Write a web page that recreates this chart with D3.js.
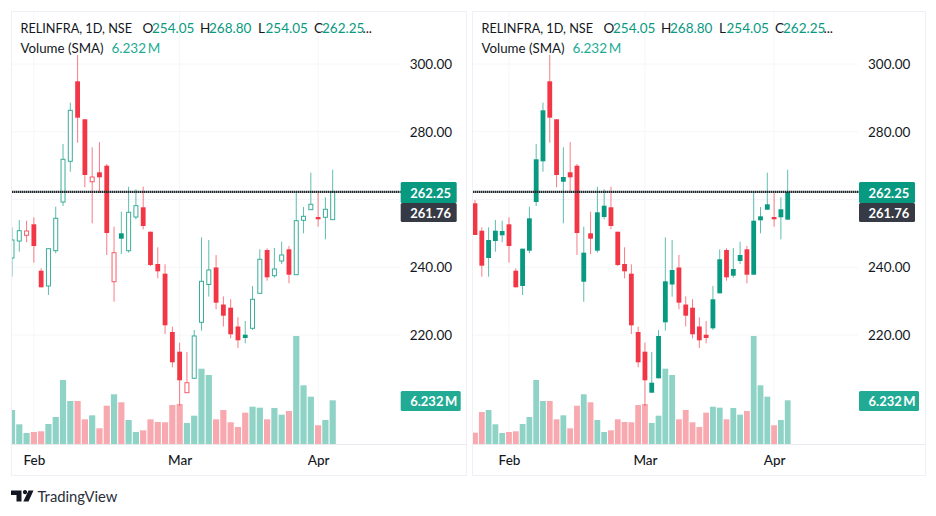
<!DOCTYPE html>
<html>
<head>
<meta charset="utf-8">
<script src="https://cdn.jsdelivr.net/npm/d3@7"></script>
<style>
  html, body { margin: 0; padding: 0; background: #fff; }
  text { font-family: Lato, "Open Sans", sans-serif; }
</style>
</head>
<body>
<svg id="chart" width="936" height="516"></svg>
<script>
// daily candles
const opens = [258.88, 250.79, 242.73, 247.75, 249.43, 252.68, 238.98, 234.47, 244.89, 259.26, 271.28, 294.89, 283.68, 265.25, 268.03, 269.98, 235.73, 250.02, 244.89, 254.83, 257.7, 250.49, 240.96, 238.1, 220.89, 215.07, 202.97, 207.22, 223.75, 234.91, 239.93, 229.0, 228.06, 222.51, 220.09, 221.98, 232.31, 245.09, 237.51, 241.85, 245.3, 237.8, 253.86, 256.99, 254.83, 254.75, 254.05];
const highs = [259.85, 251.79, 251.79, 253.95, 253.74, 254.75, 239.69, 245.48, 257.87, 276.38, 288.58, 302.66, 283.68, 275.41, 276.97, 270.48, 251.97, 256.4, 263.78, 263.01, 263.78, 250.49, 245.89, 240.87, 222.45, 217.73, 214.98, 221.48, 248.84, 248.04, 243.62, 231.42, 230.57, 225.23, 224.13, 234.47, 245.3, 245.59, 245.68, 247.54, 246.27, 262.21, 257.79, 267.91, 261.92, 260.65, 268.8];
const lows = [249.52, 237.21, 237.21, 244.59, 247.36, 241.34, 234.08, 231.81, 244.12, 258.08, 268.21, 276.77, 263.6, 252.97, 261.92, 243.62, 229.83, 243.91, 244.3, 254.16, 251.2, 240.37, 236.74, 220.3, 210.47, 199.04, 202.97, 207.22, 221.27, 231.31, 227.59, 222.51, 219.03, 216.16, 217.55, 221.48, 232.31, 236.03, 236.91, 240.96, 235.26, 237.8, 250.02, 256.99, 251.97, 248.25, 254.05];
const closes = [249.52, 240.46, 248.04, 250.79, 250.7, 246.27, 234.08, 245.48, 254.45, 271.87, 286.33, 284.15, 267.23, 266.64, 266.55, 250.11, 244.3, 248.43, 256.22, 258.17, 252.18, 240.66, 238.8, 222.86, 211.94, 206.63, 205.92, 219.71, 235.85, 239.19, 229.54, 225.7, 220.21, 218.44, 219.12, 230.54, 242.35, 237.03, 239.48, 243.62, 237.8, 253.74, 255.04, 258.58, 254.16, 257.11, 262.25];
// volume in millions
const volumes = [1.61, 4.56, 4.85, 2.81, 1.57, 1.71, 1.81, 2.85, 3.85, 9.13, 6.13, 6.13, 3.52, 4.09, 2.24, 5.46, 7.09, 5.95, 3.42, 1.71, 1.95, 3.52, 3.14, 3.1, 5.56, 5.71, 3.0, 4.04, 10.74, 9.84, 3.52, 4.85, 3.1, 2.43, 4.47, 5.32, 5.18, 3.52, 5.14, 4.18, 4.71, 15.41, 8.37, 6.75, 2.67, 3.42, 6.232];

const priceTicks = [300, 280, 240, 220];
const gridPrices = [300, 280, 260, 240, 220];
const monthIndex = [5, 25, 44];
const monthLabels = ['Feb', 'Mar', 'Apr'];

const lastClose = 262.25;
const lastAverage = 261.76;
const lastVolume = 6.232;

const UP = '#089981';
const DOWN = '#f23645';
const UP_VOL = '#8fd3c6';
const DOWN_VOL = '#f8a9b0';

const legendBits = [
  { dx: 0, text: 'RELINFRA, 1D, NSE', color: '#131722', size: 12.7 },
  { dx: 122, text: 'O', color: '#131722', size: 13.5 },
  { dx: 131.5, text: '254.05', color: UP, size: 13.5 },
  { dx: 179.5, text: 'H', color: '#131722', size: 13.5 },
  { dx: 188.5, text: '268.80', color: UP, size: 13.5 },
  { dx: 237.5, text: 'L', color: '#131722', size: 13.5 },
  { dx: 245, text: '254.05', color: UP, size: 13.5 },
  { dx: 293.5, text: 'C', color: '#131722', size: 13.5 },
  { dx: 301.5, text: '262.25', color: UP, size: 13.5 },
  { dx: 342, text: '...', color: '#131722', size: 13.5 }
];

const svg = d3.select('#chart');
const bars = d3.range(closes.length);

// candle colours: the left panel is hollow candles, the right one plain
function candleColor(i, hollow) {
  if (hollow && i > 0) return closes[i] >= closes[i - 1] ? UP : DOWN;
  return closes[i] >= opens[i] ? UP : DOWN;
}

function isOutline(i, hollow) {
  return hollow && closes[i] > opens[i];
}

function drawPanel(cfg, id) {
  let g = svg.append('g');
  let x = d3.scaleLinear().domain([cfg.firstIndex, 46]).range([cfg.firstX, cfg.lastX]);
  let y = d3.scaleLinear().domain([220, 300]).range([335, 64]);
  let yVol = d3.scaleLinear().domain([0, lastVolume]).range([444, 400.3]);

  // panel frame
  g.append('rect')
    .attr('x', cfg.left + 0.5).attr('y', 11.5)
    .attr('width', cfg.width).attr('height', 464)
    .attr('fill', '#fff').attr('stroke', '#eef0f5');

  g.append('clipPath').attr('id', id)
    .append('rect')
    .attr('x', cfg.left + 1).attr('y', 12)
    .attr('width', cfg.plotRight - cfg.left - 1).attr('height', 432);

  // grid
  g.selectAll('.hgrid').data(gridPrices).enter().append('line')
    .attr('x1', cfg.left + 1).attr('x2', cfg.plotRight)
    .attr('y1', d => y(d)).attr('y2', d => y(d))
    .attr('stroke', '#f5f6f9');
  g.selectAll('.vgrid').data(monthIndex).enter().append('line')
    .attr('x1', d => x(d)).attr('x2', d => x(d))
    .attr('y1', 12).attr('y2', 444)
    .attr('stroke', '#f5f6f9');

  // base of the volume pane
  g.append('line')
    .attr('x1', cfg.left + 1).attr('x2', cfg.left + cfg.width)
    .attr('y1', 444.5).attr('y2', 444.5)
    .attr('stroke', '#e8eaef');

  let marks = g.append('g').attr('clip-path', `url(#${id})`);

  marks.selectAll('.vol').data(bars).enter().append('rect')
    .attr('x', i => x(i) - cfg.volWidth / 2)
    .attr('width', cfg.volWidth)
    .attr('y', i => yVol(volumes[i]))
    .attr('height', i => yVol(0) - yVol(volumes[i]))
    .attr('fill', i => closes[i] >= opens[i] ? UP_VOL : DOWN_VOL);

  marks.selectAll('.wick').data(bars).enter().append('line')
    .attr('x1', i => x(i)).attr('x2', i => x(i))
    .attr('y1', i => y(highs[i])).attr('y2', i => y(lows[i]))
    .attr('stroke', i => candleColor(i, cfg.hollow))
    .attr('stroke-opacity', 0.65);

  marks.selectAll('.body').data(bars).enter().append('rect')
    .attr('x', i => x(i) - (isOutline(i, cfg.hollow) ? 2 : 2.4))
    .attr('width', i => isOutline(i, cfg.hollow) ? 4 : 4.8)
    .attr('y', i => y(Math.max(opens[i], closes[i])))
    .attr('height', i => Math.max(1, Math.abs(y(opens[i]) - y(closes[i]))))
    .attr('fill', i => isOutline(i, cfg.hollow) ? '#fff' : candleColor(i, cfg.hollow))
    .attr('stroke', i => candleColor(i, cfg.hollow))
    .attr('stroke-opacity', 0.8)
    .attr('stroke-width', i => isOutline(i, cfg.hollow) ? 1 : 0);

  // last price line, runs up to the price label
  g.append('line')
    .attr('x1', cfg.left + 1).attr('x2', cfg.boxLeft)
    .attr('y1', y(lastClose)).attr('y2', y(lastClose))
    .attr('stroke', '#1f2a2e').attr('stroke-width', 2.4)
    .attr('stroke-dasharray', '1.5 0.5');

  // price axis
  let priceAxis = d3.axisRight(y).tickValues(priceTicks).tickSize(0).tickFormat(d3.format('.2f'));
  let pa = g.append('g').attr('transform', `translate(${cfg.boxLeft + 6},0)`).call(priceAxis);
  pa.select('.domain').remove();
  pa.selectAll('text').attr('font-size', 13.5).attr('fill', '#131722').attr('font-family', 'Lato');

  // time axis
  let timeAxis = d3.axisBottom(x).tickValues(monthIndex).tickSize(0)
    .tickFormat((d, i) => monthLabels[i]);
  let ta = g.append('g').attr('transform', 'translate(0,452)').call(timeAxis);
  ta.select('.domain').remove();
  ta.selectAll('text').attr('font-size', 13.5).attr('font-weight', 500).attr('fill', '#131722').attr('font-family', 'Lato');

  // price labels
  let boxes = [
    { top: 182, h: 21, w: 56, fill: UP, text: lastClose.toFixed(2) },
    { top: 203, h: 19, w: 56, fill: '#363a45', text: lastAverage.toFixed(2) },
    { top: 391, h: 20, w: 60, fill: '#22ab94', text: lastVolume.toFixed(3) + '\u2009M' }
  ];
  boxes.forEach(b => {
    g.append('rect')
      .attr('x', cfg.boxLeft).attr('y', b.top)
      .attr('width', b.w).attr('height', b.h)
      .attr('rx', 1.5).attr('fill', b.fill);
    g.append('text')
      .attr('x', cfg.boxLeft + 9.5).attr('y', b.top + b.h / 2 + 5)
      .attr('font-size', 13).attr('font-weight', 700)
      .attr('fill', '#fff').text(b.text);
  });

  // legend rows
  legendBits.forEach(b => {
    g.append('text')
      .attr('x', cfg.left + 9.5 + b.dx).attr('y', 33)
      .attr('font-size', b.size).attr('fill', b.color).text(b.text);
  });
  g.append('text')
    .attr('x', cfg.left + 9.5).attr('y', 53)
    .attr('font-size', 13.3).attr('fill', '#131722').text('Volume (SMA)');
  g.append('text')
    .attr('x', cfg.left + 100.5).attr('y', 53)
    .attr('font-size', 13.5).attr('fill', '#22ab94').text(lastVolume.toFixed(3) + '\u2009M');
}

drawPanel({ left: 11, width: 455, plotRight: 400, boxLeft: 400.7, firstIndex: 2, firstX: 12, lastX: 332.7, volWidth: 6.2, hollow: true }, 'clip-left');
drawPanel({ left: 472, width: 453, plotRight: 858, boxLeft: 859, firstIndex: 0, firstX: 475, lastX: 787.7, volWidth: 5.8, hollow: false }, 'clip-right');

// TradingView mark
svg.append('path')
  .attr('d', 'M11 490.5h10.5v11h-5v-6.6h-5.5z M25 494.2a2.1 2.1 0 1 1 0.01 0z M28.5 490.5h5l-5 11h-5.2z')
  .attr('fill', '#131722');
svg.append('text')
  .attr('x', 37.5).attr('y', 502)
  .attr('font-size', 14.8).attr('fill', '#2a2e39').text('TradingView');
</script>
</body>
</html>
